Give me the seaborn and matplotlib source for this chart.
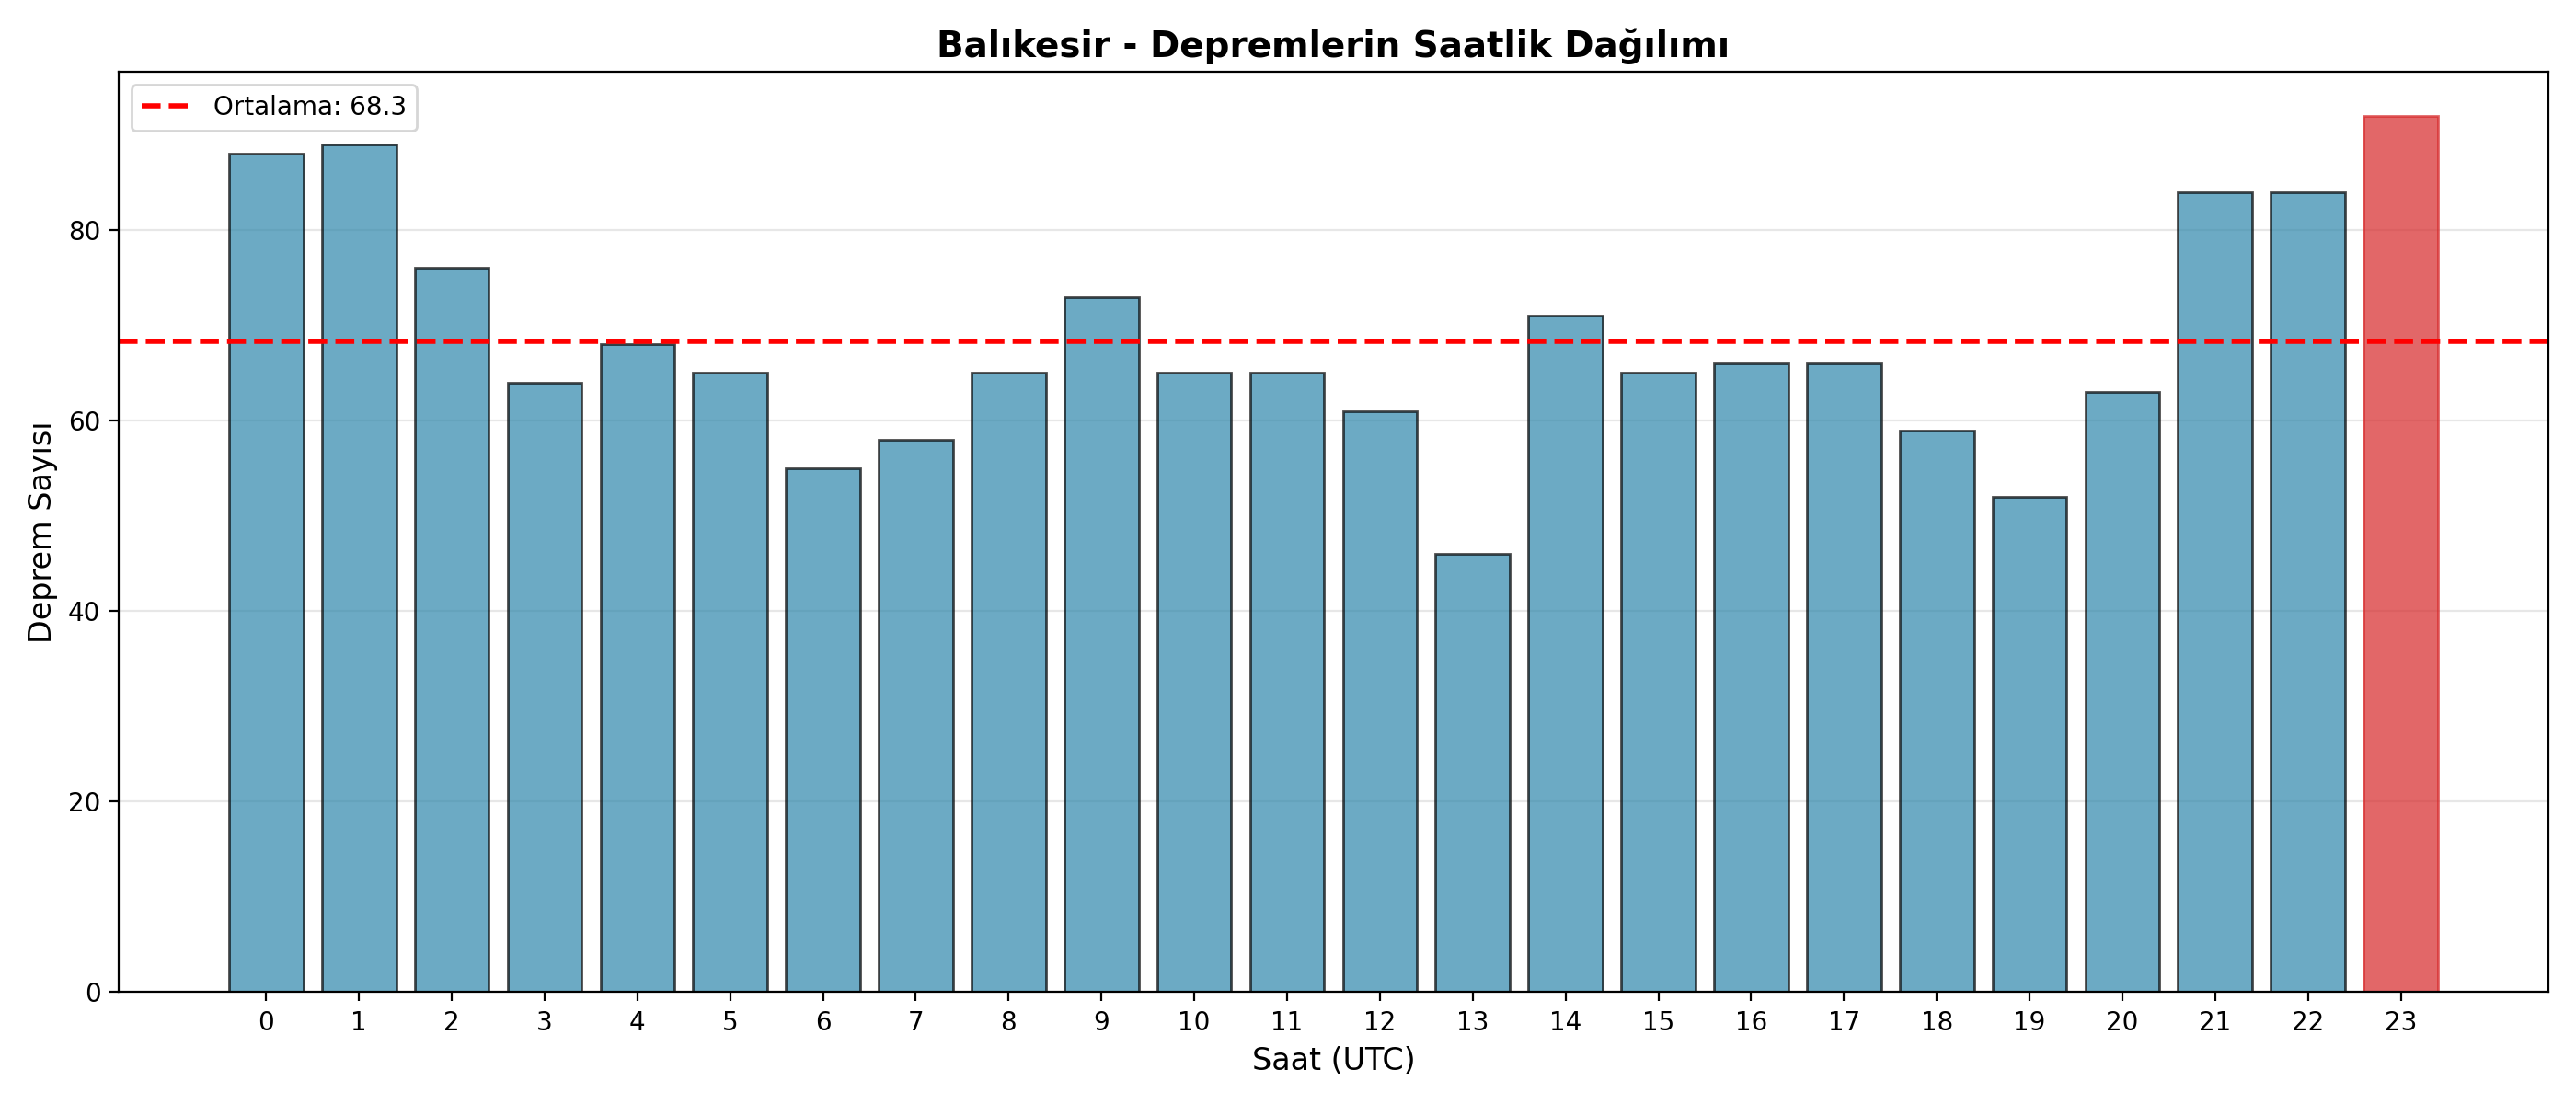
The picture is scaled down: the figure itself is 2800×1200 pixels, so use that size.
import matplotlib
matplotlib.use("Agg")
import matplotlib.pyplot as plt
import seaborn as sns
import pandas as pd

# Saatlik deprem sayıları (UTC)
saatler = list(range(24))
deprem_sayilari = [88, 89, 76, 64, 68, 65, 55, 58, 65, 73, 65, 65,
                   61, 46, 71, 65, 66, 66, 59, 52, 63, 84, 84, 92]

df = pd.DataFrame({'saat': saatler, 'sayi': deprem_sayilari})
ortalama = df['sayi'].mean()
en_yogun = df['sayi'].idxmax()

renkler = ['#d62728' if i == en_yogun else '#2E86AB' for i in df.index]
kenarlar = ['#d62728' if i == en_yogun else 'black' for i in df.index]

fig, ax = plt.subplots(figsize=(14, 6), dpi=200)
sns.barplot(data=df, x='saat', y='sayi', hue='saat', palette=renkler,
            legend=False, alpha=0.7, width=0.8, saturation=1, ax=ax)
for bar, kenar in zip(ax.patches, kenarlar):
    bar.set_edgecolor(kenar)
    bar.set_linewidth(1)

ax.autoscale(axis='x')
ax.axhline(ortalama, color='red', linestyle='--', linewidth=2,
           label=f'Ortalama: {ortalama:.1f}')

ax.set_title('Balıkesir - Depremlerin Saatlik Dağılımı', fontsize=14, fontweight='bold')
ax.set_xlabel('Saat (UTC)', fontsize=12)
ax.set_ylabel('Deprem Sayısı', fontsize=12)
ax.legend(loc='upper left')
ax.grid(axis='y', alpha=0.3)
ax.set_axisbelow(True)

plt.tight_layout()
plt.savefig('out.png', dpi=200)
